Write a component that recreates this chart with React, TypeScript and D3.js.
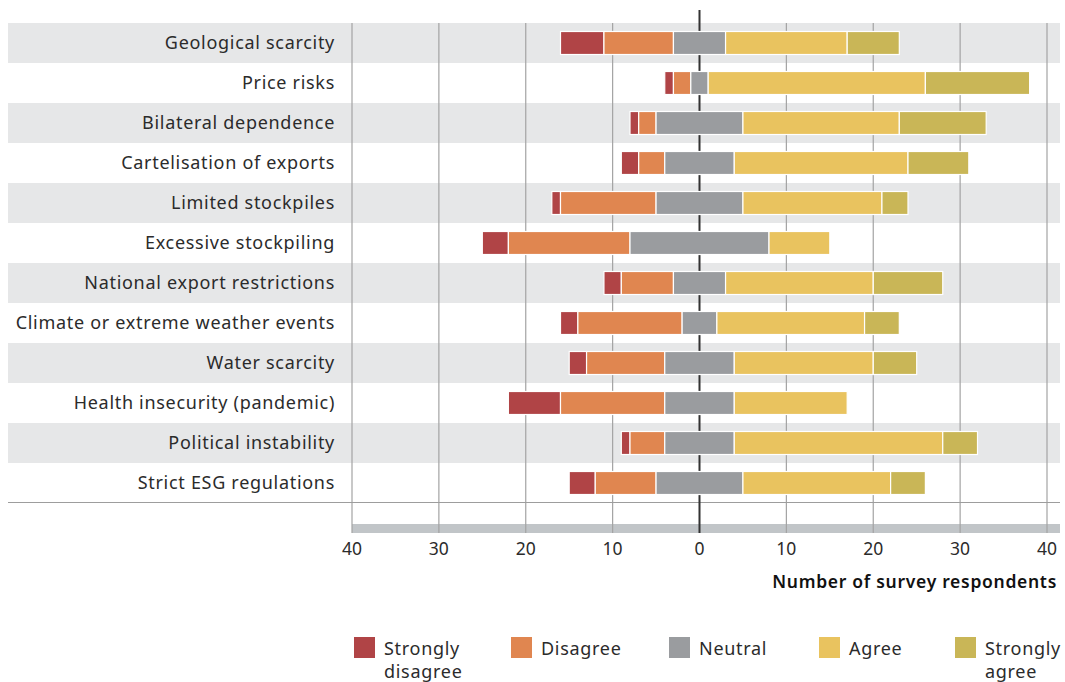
import React from "react";
import * as d3 from "d3";

const categories = [
  "Geological scarcity",
  "Price risks",
  "Bilateral dependence",
  "Cartelisation of exports",
  "Limited stockpiles",
  "Excessive stockpiling",
  "National export restrictions",
  "Climate or extreme weather events",
  "Water scarcity",
  "Health insecurity (pandemic)",
  "Political instability",
  "Strict ESG regulations",
];
const stronglyDisagree = [5, 1, 1, 2, 1, 3, 2, 2, 2, 6, 1, 3];
const disagree = [8, 2, 2, 3, 11, 14, 6, 12, 9, 12, 4, 7];
const neutral = [6, 2, 10, 8, 10, 16, 6, 4, 8, 8, 8, 10];
const agree = [14, 25, 18, 20, 16, 7, 17, 17, 16, 13, 24, 17];
const stronglyAgree = [6, 12, 10, 7, 3, 0, 8, 4, 5, 0, 4, 4];
const xTicks = [-40, -30, -20, -10, 0, 10, 20, 30, 40];
const seriesNames = ["Strongly disagree", "Disagree", "Neutral", "Agree", "Strongly agree"];
const seriesColors = ["#b04446", "#e08650", "#9a9c9f", "#e9c35f", "#c9b657"];

const FONT = "'Noto Sans', 'Open Sans', sans-serif";
const TEXT = "#2b2b2b";

export default function App() {
  const W = 1065;
  const H = 682;
  const x = d3.scaleLinear().domain([-40, 40]).range([352, 1047]);
  const y = d3.scaleBand<string>().domain(categories).range([23, 503]).padding(0);
  const barH = y.bandwidth() * 0.575;

  const rows = categories.map((c, i) => {
    const vals = [stronglyDisagree[i], disagree[i], neutral[i], agree[i], stronglyAgree[i]];
    const start = -(vals[0] + vals[1] + vals[2] / 2);
    let acc = start;
    const segs = vals.map((v, k) => {
      const s = { x0: acc, x1: acc + v, k };
      acc += v;
      return s;
    });
    return { c, i, segs };
  });

  const legendX = [354, 511, 669, 819, 955];

  return (
    <svg width={W} height={H} style={{ position: "absolute", left: 0, top: 0, background: "#fff" }}>
      {categories.map((c, i) =>
        i % 2 === 0 ? (
          <rect key={c} x={8} y={y(c)!} width={1052} height={y.bandwidth()} fill="#e6e7e8" />
        ) : null
      )}
      <rect x={352} y={524} width={708} height={9} fill="#c1c5c8" />
      {xTicks
        .filter((t) => t !== 0)
        .map((t) => (
          <line key={t} x1={x(t)} x2={x(t)} y1={23} y2={533} stroke="#a3a3a3" strokeWidth={1.2} />
        ))}
      <line x1={8} x2={1060} y1={502.5} y2={502.5} stroke="#9d9d9d" strokeWidth={1.2} />
      <line x1={x(0)} x2={x(0)} y1={10} y2={533} stroke="#333" strokeWidth={2} />
      {rows.map((r) =>
        r.segs
          .filter((s) => s.x1 > s.x0)
          .map((s) => (
            <rect
              key={r.c + s.k}
              x={x(s.x0)}
              width={x(s.x1) - x(s.x0)}
              y={y(r.c)! + (y.bandwidth() - barH) / 2}
              height={barH}
              fill={seriesColors[s.k]}
              stroke="#fff"
              strokeWidth={1.2}
            />
          ))
      )}
      {categories.map((c) => (
        <text
          key={c}
          x={335}
          y={y(c)! + y.bandwidth() / 2}
          dy="0.35em"
          textAnchor="end"
          fontFamily={FONT}
          fontSize={18}
          letterSpacing={0.7}
          fill={TEXT}
        >
          {c}
        </text>
      ))}
      {xTicks.map((t) => (
        <text key={t} x={x(t)} y={555} textAnchor="middle" fontFamily={FONT} fontSize={17.5} fill={TEXT}>
          {Math.abs(t)}
        </text>
      ))}
      <text
        x={1057}
        y={588}
        textAnchor="end"
        fontFamily={FONT}
        fontSize={17.5}
        fontWeight={600}
        letterSpacing={0.7}
        fill="#111"
      >
        Number of survey respondents
      </text>
      {seriesNames.map((n, k) => {
        const words = n.split(" ");
        const lines = words.length > 1 ? words : [n];
        return (
          <g key={n} transform={`translate(${legendX[k]},637)`}>
            <rect width={21} height={21} fill={seriesColors[k]} />
            <text x={30} y={18} fontFamily={FONT} fontSize={18} letterSpacing={0.7} fill={TEXT}>
              {lines.map((l, j) => (
                <tspan key={j} x={30} dy={j === 0 ? 0 : 23}>
                  {l}
                </tspan>
              ))}
            </text>
          </g>
        );
      })}
    </svg>
  );
}
